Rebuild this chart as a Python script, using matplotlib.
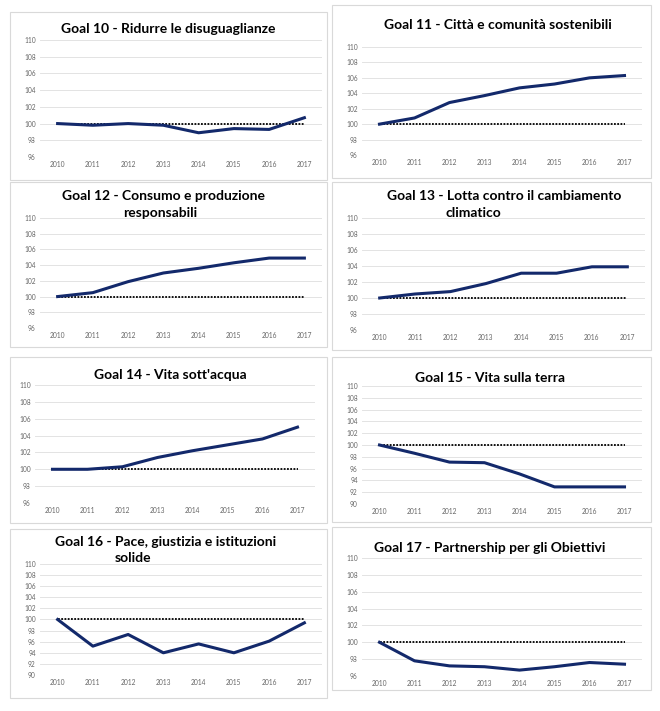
import matplotlib
matplotlib.use("Agg")
import matplotlib.pyplot as plt
from matplotlib.patches import Rectangle

plt.rcParams['font.family'] = ['Lato', 'DejaVu Sans']

# ── Data (index 2010 = 100) ─────────────────────────────────────
years = ["2010", "2011", "2012", "2013", "2014", "2015", "2016", "2017"]
baseline = [100] * 8

goal10 = [100, 99.8, 100.0, 99.8, 98.9, 99.4, 99.3, 100.7]
goal11 = [100, 100.8, 102.8, 103.7, 104.7, 105.2, 106.0, 106.3]
goal12 = [100, 100.5, 101.9, 103.0, 103.6, 104.3, 104.9, 104.9]
goal13 = [100, 100.5, 100.8, 101.8, 103.1, 103.1, 103.9, 103.9]
goal14 = [100, 100.0, 100.3, 101.4, 102.2, 102.9, 103.6, 105.0]
goal15 = [100, 98.6, 97.1, 97.0, 95.1, 92.9, 92.9, 92.9]
goal16 = [100, 95.2, 97.3, 94.0, 95.6, 94.0, 96.1, 99.4]
goal17 = [100, 97.8, 97.2, 97.1, 96.7, 97.1, 97.6, 97.4]

titles = [
    ["Goal 10 - Ridurre le disuguaglianze"],
    ["Goal 11 - Città e comunità sostenibili"],
    ["Goal 12 - Consumo e produzione", "responsabili"],
    ["Goal 13 - Lotta contro il cambiamento", "climatico"],
    ["Goal 14 - Vita sott'acqua"],
    ["Goal 15 - Vita sulla terra"],
    ["Goal 16 - Pace, giustizia e istituzioni", "solide"],
    ["Goal 17 - Partnership per gli Obiettivi"],
]
series = [goal10, goal11, goal12, goal13, goal14, goal15, goal16, goal17]
ylims = [(96, 110)] * 5 + [(90, 110), (90, 110), (96, 110)]

# ── Layout in pixels (left, top, right, bottom) ─────────────────
W, H = 660, 711
boxes = [(10, 12, 327, 180), (332, 5, 651, 178),
         (10, 182, 327, 347), (332, 182, 651, 350),
         (10, 357, 327, 523), (332, 357, 651, 522),
         (10, 529, 327, 698), (332, 527, 651, 690)]
axes_px = [(40, 40, 322, 157), (362, 47, 642, 155),
           (40, 218, 322, 328), (362, 218, 645, 330),
           (35, 385, 315, 503), (362, 386, 642, 504),
           (40, 564, 322, 675), (362, 558, 642, 676)]
title_px = [[(168, 29)], [(498, 25)],
            [(163, 196), (160, 213)], [(504, 196), (473, 213)],
            [(170, 375)], [(490, 378)],
            [(166, 542), (133, 558)], [(490, 548)]]

LINE = "#13296B"
fig = plt.figure(figsize=(W / 100, H / 100), dpi=100)

def fx(x):
    return x / W

def fy(y):
    return 1 - y / H

for i in range(8):
    l, t, r, b = boxes[i]
    fig.patches.append(Rectangle((fx(l), fy(b)), fx(r - l), (b - t) / H,
                                 transform=fig.transFigure, fill=False,
                                 edgecolor="#D9D9D9", linewidth=0.8))
    l, t, r, b = axes_px[i]
    ax = fig.add_axes([fx(l), fy(b), fx(r - l), (b - t) / H])
    x = range(len(years))
    ax.plot(x, baseline, color="black", linestyle=(0, (1, 0.8)), linewidth=1.3)
    ax.plot(x, series[i], color=LINE, linewidth=2.2, solid_joinstyle="round")
    lo, hi = ylims[i]
    ax.set_ylim(lo, hi)
    ax.set_xlim(-0.5, 7.5)
    ax.set_yticks(range(lo, hi + 1, 2))
    ax.set_xticks(list(x))
    ax.set_xticklabels(years)
    ax.grid(axis="y", color="#E3E3E3", linewidth=0.7)
    ax.set_axisbelow(True)
    for s in ax.spines.values():
        s.set_visible(False)
    ax.tick_params(length=0, labelsize=4.8, labelcolor="#666666", pad=3)
    for (tx, ty), txt in zip(title_px[i], titles[i]):
        fig.text(fx(tx), fy(ty), txt, ha="center", va="center",
                 fontsize=10, fontweight="bold", color="black")

fig.savefig("out.png", dpi=100, facecolor="white")
